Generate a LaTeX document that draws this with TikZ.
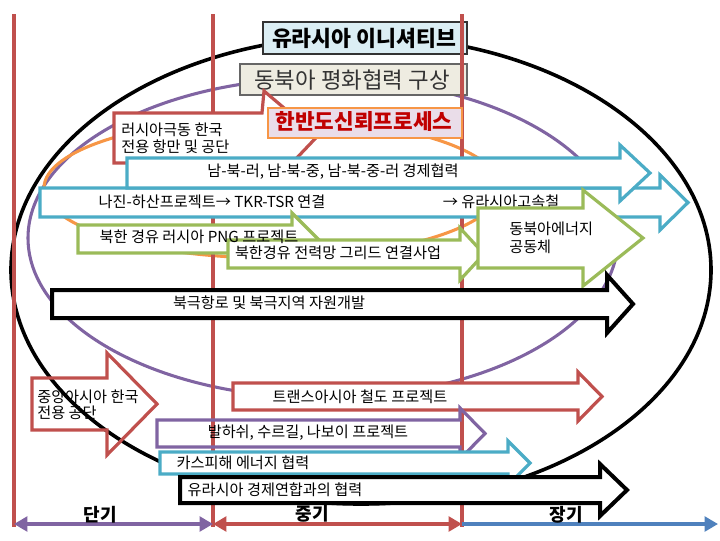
\documentclass[tikz,border=0pt]{standalone}
\usepackage{fontspec}
\setmainfont{Noto Sans CJK KR}
\usetikzlibrary{arrows.meta}
\definecolor{cred}{HTML}{C0504D}
\definecolor{cpur}{HTML}{8064A2}
\definecolor{cora}{HTML}{F79646}
\definecolor{cteal}{HTML}{4BACC6}
\definecolor{cgreen}{HTML}{9BBB59}
\definecolor{cblue}{HTML}{4F81BD}
\definecolor{boxa}{HTML}{DBEEF4}
\definecolor{boxb}{HTML}{EEECE1}
\definecolor{boxc}{HTML}{EADDE9}
\definecolor{darkred}{HTML}{C00000}
\newcommand\blkarrow[7]{%
  \path[#1] (#2,#3) -- (#4,#3) -- (#4,#6) -- (#7,{(#3+#5)/2}) -- (#4,{#3+#5-#6}) -- (#4,#5) -- (#2,#5) -- cycle;}
\tikzset{
  vline/.style={draw=cred, line width=3pt},
  ring/.style={line width=2.3pt},
  topbox/.style={line width=0.8pt},
  toptxt/.style={font=\fontsize{16}{18}\selectfont, inner sep=0pt},
  txt/.style={font=\fontsize{11.4}{13}\selectfont, inner sep=0pt},
  ltxt/.style={font=\fontsize{11.4}{13}\selectfont, inner sep=0pt, anchor=west},
  tealarr/.style={draw=cteal, line width=2.4pt, fill=white, line join=miter},
  greenarr/.style={draw=cgreen, line width=2.4pt, fill=white, line join=miter},
  blackarr/.style={draw=black, line width=3pt, fill=white, line join=miter},
  redarr/.style={draw=cred, line width=2.4pt, line join=miter},
  purarr/.style={draw=cpur, line width=2.4pt, line join=miter},
  period/.style={font=\bfseries\fontsize{13.5}{15}\selectfont, inner sep=0pt},
  tip/.style={line width=2.4pt}
}
\begin{document}
\begin{tikzpicture}[x=0.75pt,y=-0.75pt]
\useasboundingbox (0,0) rectangle (720,540);
% ellipses
\draw[ring, draw=black, line width=2.7pt] (361,270) ellipse [x radius=350, y radius=234];
\draw[ring, draw=cpur] (323,238) ellipse [x radius=295, y radius=160];
\draw[ring, draw=cora] (272,188) ellipse [x radius=228, y radius=70];
% top boxes
\draw[topbox, fill=boxa, draw=black!80] (263,22) rectangle (467,54);
\node[toptxt, font=\bfseries\fontsize{16.2}{18}\selectfont] (eur) at (364,38) {유라시아 이니셔티브};
\draw[topbox, fill=boxb, draw=black!60] (240,64) rectangle (467,95);
\node[toptxt, font=\fontsize{16.8}{18}\selectfont, text=black!80] (neap) at (352,80) {동북아 평화협력 구상};
% vertical period lines
\draw[vline] (14,14) -- (14,527);
\draw[vline] (213,14) -- (213,527);
\draw[vline] (462,14) -- (462,527);
% callout
\path[draw=cred, line width=2.4pt, fill=white, line join=miter]
  (114,113) -- (262,113) -- (264,91) -- (290,113) -- (330,113) -- (330,123) -- (292,163) -- (114,163) -- cycle;
\node[ltxt] (rfe1) at (121,130) {러시아극동 한국};
\node[ltxt] (rfe2) at (121,147) {전용 항만 및 공단};
% trust process box
\draw[line width=1.2pt, fill=boxc, draw=cora] (268,108) rectangle (462,138);
\node[toptxt, font=\bfseries\fontsize{16}{18}\selectfont, text=darkred] (trust) at (364,122) {한반도신뢰프로세스};
% arrows
\blkarrow{tealarr}{40}{188}{660}{217}{175}{688}
\node[txt] (naj) at (212,202) {나진-하산프로젝트→ TKR-TSR 연결};
\node[txt] (hsr) at (501,202) {→ 유라시아고속철};
\blkarrow{tealarr}{127}{158}{620}{188}{145}{650}
\node[txt] (snr) at (333,172) {남-북-러, 남-북-중, 남-북-중-러 경제협력};
\blkarrow{greenarr}{78}{225}{292}{253}{213}{318}
\blkarrow{greenarr}{228}{240}{460}{268}{228}{484}
\node[txt] (png) at (199,237) {북한 경유 러시아 PNG 프로젝트};
\node[txt] (grid) at (338,253) {북한경유 전력망 그리드 연결사업};
\blkarrow{greenarr}{478}{208}{583}{268}{190}{643}
\node[ltxt] (ne1) at (509,229) {동북아에너지};
\node[ltxt] (ne2) at (509,247) {공동체};
\blkarrow{blackarr}{52}{290}{607}{318}{275}{633}
\node[txt] (arc) at (269,303) {북극항로 및 북극지역 자원개발};
\blkarrow{redarr}{32}{378}{107}{430}{353}{157}
\node[ltxt] (ca1) at (37,397) {중앙아시아 한국};
\node[ltxt] (ca2) at (37,413) {전용 공단};
\blkarrow{redarr, fill=white}{233}{383}{578}{410}{372}{602}
\node[txt] (tar) at (360,397) {트랜스아시아 철도 프로젝트};
\blkarrow{purarr}{157}{420}{460}{447}{408}{485}
\node[txt] (bal) at (308,433) {발하쉬, 수르길, 나보이 프로젝트};
\blkarrow{tealarr}{160}{452}{508}{474}{441}{530}
\node[txt] (cas) at (243,463) {카스피해 에너지 협력};
\blkarrow{blackarr}{180}{477}{600}{503}{464}{627}
\node[txt] (eeu) at (275,490) {유라시아 경제연합과의 협력};
% time axis
\coordinate (p0) at (14,524);
\coordinate (p1) at (213,524);
\coordinate (p2) at (462,524);
\coordinate (p3) at (718,524);
\draw[tip, draw=cpur, {Triangle[length=10pt,width=11pt]}-{Triangle[length=10pt,width=11pt]}] (p0) -- (p1);
\draw[tip, draw=cred, {Triangle[length=10pt,width=11pt]}-{Triangle[length=10pt,width=11pt]}] (p1) -- (p2);
\draw[tip, draw=cblue, -{Triangle[length=10pt,width=11pt]}] (p2) -- (p3);
\node[period] (short) at (100,515) {단기};
\node[period] (mid) at (312,514) {중기};
\node[period] (long) at (566,515) {장기};
\end{tikzpicture}
\end{document}
